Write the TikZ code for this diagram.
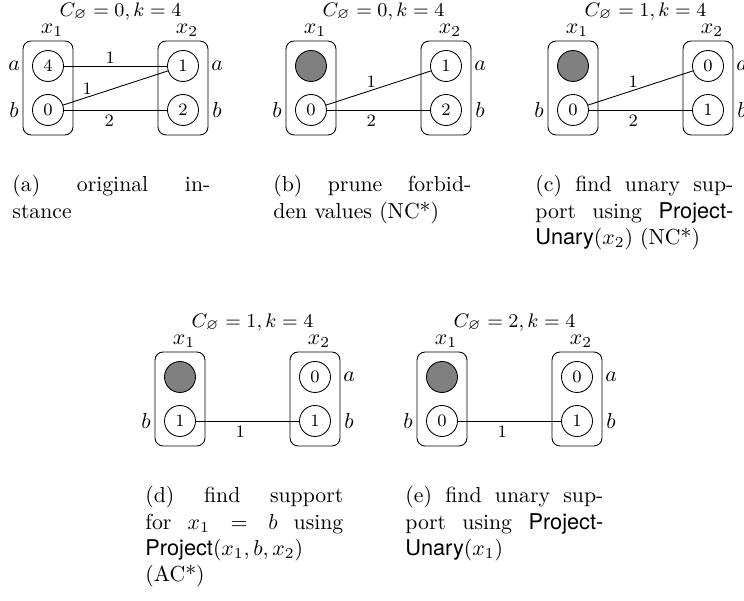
\documentclass[tikz,border=0pt]{standalone}
\usepackage{amssymb}
\usepackage{fontspec}
\setsansfont{TeX Gyre Heros}
\tikzset{
  dombox/.style={draw, rounded corners=3.7pt, minimum width=22.99pt, minimum height=43.2pt, inner sep=0pt},
  val/.style={draw, circle, minimum size=14.25pt, inner sep=0pt, font=\footnotesize, fill=white},
  pruned/.style={val, fill=black!50},
  varlab/.style={anchor=base, inner sep=0pt},
  sidelab/.style={inner sep=0pt},
  titlelab/.style={anchor=base, inner sep=0pt, font=\fontsize{9.3pt}{11pt}\selectfont},
  costa/.style={font=\footnotesize, inner sep=1pt, above},
  costb/.style={font=\footnotesize, inner sep=2pt, below},
  edge/.style={draw, line width=0.4pt},
  capt/.style={anchor=base west, inner sep=0pt}
}
\newcommand\mypanel[7]{%
 \begin{scope}[shift={(#2,#3)}]
  \node[dombox] (#1d1) at (25,47) {};
  \node[dombox] (#1d2) at (160,47) {};
  \node[titlelab] (#1t) at (97.5,-24.5) {$C_\varnothing = #4, k = 4$};
  \node[varlab] (#1x1) at (29,-7.5) {$x_1$};
  \node[varlab] (#1x2) at (164,-7.5) {$x_2$};
  \node[val] (#1v1b) at (25,69) {#5};
  \node[val] (#1v2a) at (160,25) {#6};
  \node[val] (#1v2b) at (160,69) {#7};
  \node[sidelab] (#1lb) at (-9,69) {$b$};
  \node[sidelab] (#1ra) at (194,25) {$a$};
  \node[sidelab] (#1rb) at (194,69) {$b$};
 \end{scope}}
\newcommand\capbox[1]{\parbox[t]{91pt}{\tolerance=10000 #1}}
\begin{document}
\begin{tikzpicture}[x=0.45977pt,y=-0.45977pt]
\useasboundingbox (0,0) rectangle (744,601);
% panel (a)
\mypanel{A}{23}{41}{0}{0}{1}{2}
\node[val] (Av1a) at (48,66) {4};
\node[sidelab] (Ala) at (14,66) {$a$};
\draw[edge] (Av1a) -- node[costa, pos=0.45] {1} (Av2a);
\draw[edge] (Av1b) -- node[costa, pos=0.23] {1} (Av2a);
\draw[edge] (Av1b) -- node[costb, pos=0.44] {2} (Av2b);
% panel (b)
\mypanel{B}{286}{41}{0}{0}{1}{2}
\node[pruned] (Bv1a) at (311,66) {};
\draw[edge] (Bv1b) -- node[costa, pos=0.43] {1} (Bv2a);
\draw[edge] (Bv1b) -- node[costb, pos=0.43] {2} (Bv2b);
% panel (c)
\mypanel{C}{548}{41}{1}{0}{0}{1}
\node[pruned] (Cv1a) at (573,66) {};
\draw[edge] (Cv1b) -- node[costa, pos=0.43] {1} (Cv2a);
\draw[edge] (Cv1b) -- node[costb, pos=0.43] {2} (Cv2b);
% panel (d)
\mypanel{D}{155}{352}{1}{1}{0}{1}
\node[pruned] (Dv1a) at (180,377) {};
\draw[edge] (Dv1b) -- node[costb, pos=0.43] {1} (Dv2b);
% panel (e)
\mypanel{E}{417}{352}{2}{0}{0}{1}
\node[pruned] (Ev1a) at (442,377) {};
\draw[edge] (Ev1b) -- node[costb, pos=0.43] {1} (Ev2b);
% captions
\node[capt] (Acap) at (12,192) {\capbox{(a) original in-\linebreak stance}};
\node[capt] (Bcap) at (273,192) {\capbox{(b) prune forbid-\linebreak den values (NC*)}};
\node[capt] (Ccap) at (535,192) {\capbox{(c) find unary sup-\linebreak port using \textsf{Project-}\linebreak\textsf{Unary}$(x_2)$ (NC*)}};
\node[capt] (Dcap) at (145,503) {\capbox{(d) find support\linebreak for $x_1 = b$ using\linebreak\textsf{Project}$(x_1,b,x_2)$\newline(AC*)}};
\node[capt] (Ecap) at (405,503) {\capbox{(e) find unary sup-\linebreak port using \textsf{Project-}\linebreak\textsf{Unary}$(x_1)$}};
\end{tikzpicture}
\end{document}
